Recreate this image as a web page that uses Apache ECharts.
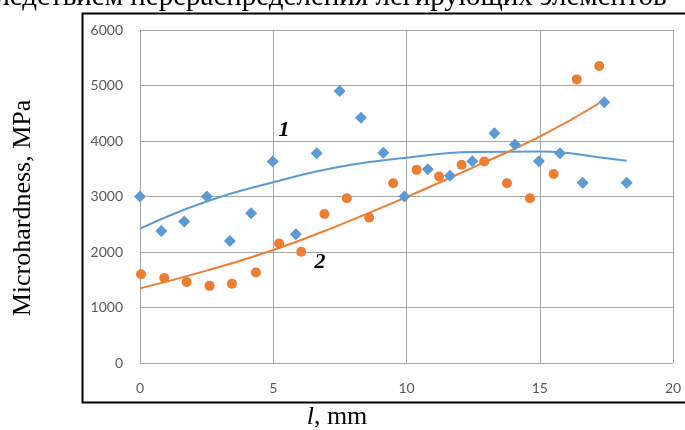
<!DOCTYPE html>
<html>
<head>
    <meta charset="utf-8">
    <title>microhardness</title>
    <script src="https://cdn.jsdelivr.net/npm/echarts@6/dist/echarts.min.js"></script>
</head>
<body style="margin:0;background:#fff;">
    <div id="main" style="width:685px;height:430px;"></div>
    <script type="text/javascript">
        // точки, серия 1 (ромбы)
        var xBlue = [0, 0.8, 1.66, 2.51, 3.37, 4.17, 4.98, 5.85, 6.63, 7.49, 8.29, 9.13, 9.92, 10.8, 11.63, 12.47, 13.3, 14.07, 14.97, 15.76, 16.61, 17.42, 18.26];
        var yBlue = [3000, 2380, 2550, 3000, 2200, 2700, 3630, 2320, 3780, 4900, 4420, 3790, 3000, 3490, 3375, 3635, 4140, 3935, 3635, 3780, 3250, 4700, 3250];
        // точки, серия 2 (круги)
        var xOrange = [0.04, 0.91, 1.75, 2.61, 3.45, 4.35, 5.22, 6.05, 6.92, 7.76, 8.6, 9.5, 10.38, 11.22, 12.07, 12.92, 13.77, 14.63, 15.52, 16.39, 17.23];
        var yOrange = [1600, 1530, 1460, 1390, 1430, 1630, 2155, 2005, 2685, 2970, 2620, 3240, 3480, 3360, 3570, 3630, 3240, 2970, 3405, 5110, 5350];
        // линии тренда
        var xTrendBlue = [0, 2.5, 5, 7.5, 10, 12.5, 15, 17.5, 18.26];
        var yTrendBlue = [2420, 2910, 3256, 3535, 3700, 3800, 3810, 3690, 3645];
        var xTrendOrange = [0, 2.5, 5, 7.5, 10, 12.5, 15, 17.23];
        var yTrendOrange = [1345, 1665, 2036, 2490, 2990, 3525, 4080, 4680];

        var xTicks = [0, 5, 10, 15, 20];
        var yTicks = [0, 1000, 2000, 3000, 4000, 5000, 6000];

        function pairs(xs, ys) {
            return xs.map(function (x, i) { return [x, ys[i]]; });
        }

        var blue = '#5B9BD5';
        var orange = '#ED7D31';
        var tickStyle = { color: '#595959', fontFamily: 'Lato', fontSize: 14 };

        var myChart = echarts.init(document.getElementById('main'));

        var option = {
            backgroundColor: '#fff',
            animation: false,
            grid: { left: 140, right: 12, top: 30, bottom: 67 },
            xAxis: {
                type: 'value',
                min: xTicks[0],
                max: xTicks[xTicks.length - 1],
                interval: 5,
                axisLine: { show: false },
                axisTick: { show: false },
                axisLabel: Object.assign({ margin: 18, formatter: function (v) { return String(v); } }, tickStyle),
                splitLine: { show: true, lineStyle: { color: '#a6a6a6', width: 1 } }
            },
            yAxis: {
                type: 'value',
                min: yTicks[0],
                max: yTicks[yTicks.length - 1],
                interval: 1000,
                axisLine: { show: false },
                axisTick: { show: false },
                axisLabel: Object.assign({ margin: 17, formatter: function (v) { return String(v); } }, tickStyle),
                splitLine: { show: true, lineStyle: { color: '#a6a6a6', width: 1 } }
            },
            graphic: [
                {   // рамка рисунка
                    type: 'rect',
                    shape: { x: 82.5, y: 13.5, width: 640, height: 389 },
                    style: { fill: 'none', stroke: '#000', lineWidth: 2 }
                },
                {
                    type: 'text', x: -31, y: 12,
                    style: { text: 'вследствием перераспределения легирующих элементов', font: '29px "Liberation Serif"', fill: '#000', verticalAlign: 'bottom' }
                },
                {
                    type: 'text', x: 23, y: 208, rotation: Math.PI / 2,
                    style: { text: 'Microhardness, MPa', font: '26px "Liberation Serif"', fill: '#000', align: 'center', verticalAlign: 'middle' }
                },
                {
                    type: 'text', x: 337, y: 417,
                    style: {
                        text: '{i|l}, mm', align: 'center', verticalAlign: 'middle',
                        rich: {
                            i: { font: 'italic 26px "Liberation Serif"', fill: '#000' }
                        },
                        font: '26px "Liberation Serif"', fill: '#000'
                    }
                },
                {
                    type: 'text', x: 284, y: 130,
                    style: { text: '1', font: 'italic bold 22px "Liberation Serif"', fill: '#000', align: 'center', verticalAlign: 'middle' }
                },
                {
                    type: 'text', x: 320, y: 262,
                    style: { text: '2', font: 'italic bold 22px "Liberation Serif"', fill: '#000', align: 'center', verticalAlign: 'middle' }
                }
            ],
            series: [
                {
                    name: 'trend1', type: 'line', smooth: true, showSymbol: false,
                    data: pairs(xTrendBlue, yTrendBlue),
                    lineStyle: { color: blue, width: 2 }, z: 2
                },
                {
                    name: 'trend2', type: 'line', smooth: true, showSymbol: false,
                    data: pairs(xTrendOrange, yTrendOrange),
                    lineStyle: { color: orange, width: 2 }, z: 2
                },
                {
                    name: '1', type: 'scatter', symbol: 'diamond', symbolSize: [12, 12],
                    data: pairs(xBlue, yBlue),
                    itemStyle: { color: blue, opacity: 1 }, z: 3
                },
                {
                    name: '2', type: 'scatter', symbol: 'circle', symbolSize: 10,
                    data: pairs(xOrange, yOrange),
                    itemStyle: { color: orange, opacity: 1 }, z: 3
                }
            ]
        };

        myChart.setOption(option);
    </script>
</body>
</html>
